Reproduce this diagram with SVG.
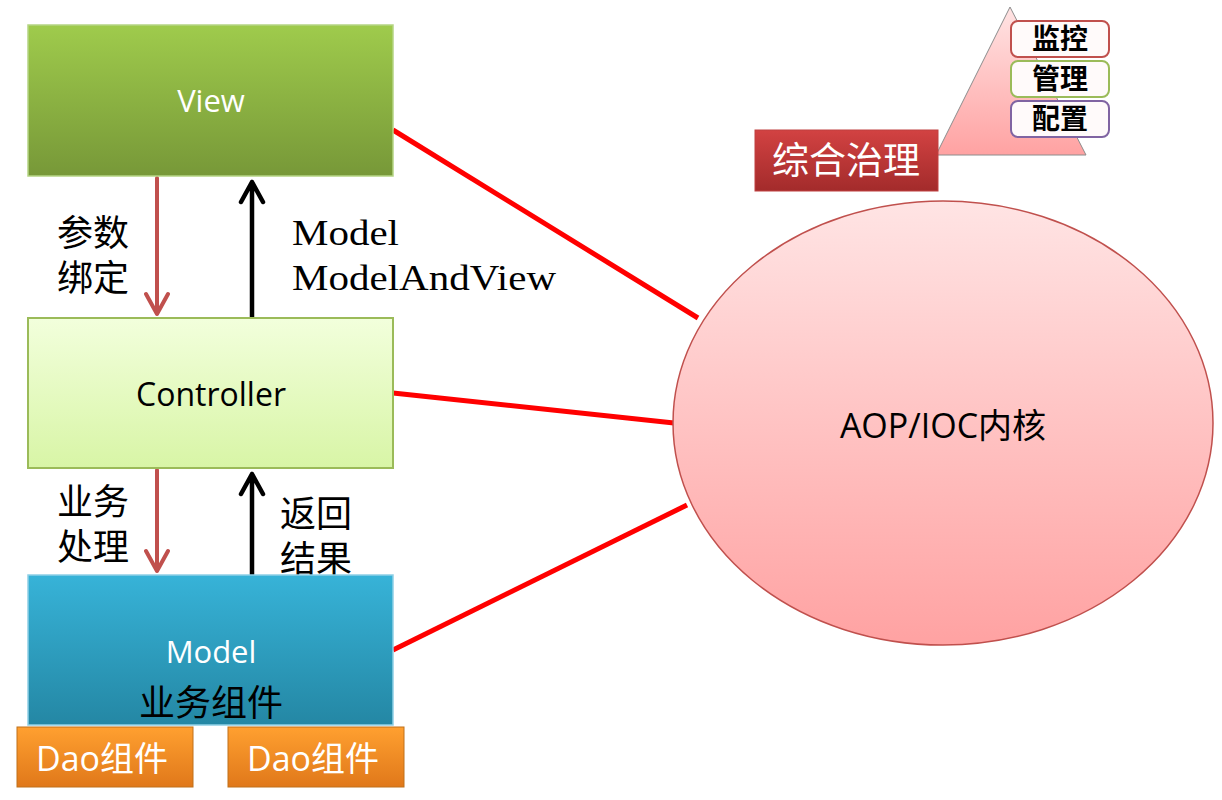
<svg xmlns="http://www.w3.org/2000/svg" width="1222" height="800" viewBox="0 0 1222 800">
<defs>
<linearGradient id="gView" x1="0" y1="0" x2="0" y2="1"><stop offset="0" stop-color="#9fcb4c"/><stop offset="1" stop-color="#779838"/></linearGradient>
<linearGradient id="gCtrl" x1="0" y1="0" x2="0" y2="1"><stop offset="0" stop-color="#f2ffdc"/><stop offset="1" stop-color="#d8f5a6"/></linearGradient>
<linearGradient id="gModel" x1="0" y1="0" x2="0" y2="1"><stop offset="0" stop-color="#37b3d8"/><stop offset="1" stop-color="#2487a4"/></linearGradient>
<linearGradient id="gDao" x1="0" y1="0" x2="0" y2="1"><stop offset="0" stop-color="#ffa030"/><stop offset="1" stop-color="#e0781a"/></linearGradient>
<linearGradient id="gPink" x1="0" y1="0" x2="0" y2="1"><stop offset="0" stop-color="#ffe4e4"/><stop offset="1" stop-color="#ffa2a2"/></linearGradient>
<linearGradient id="gRed" x1="0" y1="0" x2="0" y2="1"><stop offset="0" stop-color="#d24242"/><stop offset="1" stop-color="#a32b2b"/></linearGradient>
</defs>
<style>
.cn{font-family:"Liberation Serif","Noto Sans CJK SC",serif;font-size:36px;fill:#000}
.tag{font-family:"Liberation Serif","Noto Sans CJK SC",serif;font-size:28px;font-weight:bold;fill:#000}
.en{font-family:"Liberation Serif",serif;font-size:35px;fill:#000}
.sans{font-family:"Open Sans","Noto Sans","Noto Sans CJK SC",sans-serif}
.redline{stroke:#ff0000;stroke-width:5;fill:none}
.arR{stroke:#c0504d;stroke-width:4;fill:none;stroke-linecap:round;stroke-linejoin:round}
.arK{stroke:#000;stroke-width:4.5;fill:none;stroke-linecap:round;stroke-linejoin:round}
</style>
<rect width="1222" height="800" fill="#fff"/>

<g id="connectors">
<line class="redline" x1="393" y1="130" x2="698" y2="318"/>
<line class="redline" x1="393" y1="393" x2="674" y2="423"/>
<line class="redline" x1="393" y1="650" x2="687" y2="505"/>
<path class="arR" d="M157,178 V314 M146,294 L157,314 L168,294"/>
<path class="arK" d="M252,318 V182 M241,202 L252,182 L263,202"/>
<path class="arR" d="M157,470 V571 M146,551 L157,571 L168,551"/>
<path class="arK" d="M252,575 V474 M241,494 L252,474 L263,494"/>
<text class="cn" x="57" y="246">参数</text>
<text class="cn" x="57" y="291">绑定</text>
<text class="en" x="292" y="245" textLength="107" lengthAdjust="spacingAndGlyphs">Model</text>
<text class="en" x="292" y="290" textLength="264" lengthAdjust="spacingAndGlyphs">ModelAndView</text>
<text class="cn" x="57" y="515">业务</text>
<text class="cn" x="57" y="560">处理</text>
<text class="cn" x="280" y="527">返回</text>
<text class="cn" x="280" y="572">结果</text>
</g>

<g id="view">
<rect x="28" y="25" width="365" height="151" fill="url(#gView)" stroke="#b5d584" stroke-width="1.5"/>
<text class="sans" x="211" y="112" text-anchor="middle" font-size="31" fill="#fff">View</text>
</g>

<g id="controller">
<rect x="28" y="318" width="365" height="150" fill="url(#gCtrl)" stroke="#9bbb59" stroke-width="2"/>
<text class="sans" x="211" y="406" text-anchor="middle" font-size="32" fill="#000">Controller</text>
</g>

<g id="model">
<rect x="28" y="575" width="365" height="150" fill="url(#gModel)" stroke="#8fd0e6" stroke-width="1.5"/>
<text class="sans" x="211" y="663" text-anchor="middle" font-size="31" fill="#fff">Model</text>
<text class="cn" x="211" y="716" text-anchor="middle">业务组件</text>
</g>

<g id="dao1">
<rect x="17" y="727" width="176" height="60" fill="url(#gDao)" stroke="#c0701a" stroke-width="1"/>
<text class="sans" x="102" y="771" text-anchor="middle" font-size="34" fill="#fff">Dao组件</text>
</g>

<g id="dao2">
<rect x="228" y="727" width="176" height="60" fill="url(#gDao)" stroke="#c0701a" stroke-width="1"/>
<text class="sans" x="313" y="771" text-anchor="middle" font-size="34" fill="#fff">Dao组件</text>
</g>

<g id="core">
<ellipse cx="943" cy="423" rx="270" ry="222" fill="url(#gPink)" stroke="#c0504d" stroke-width="1.5"/>
<text class="sans" x="943" y="438" text-anchor="middle" font-size="34" fill="#000">AOP/IOC内核</text>
</g>

<g id="governance">
<polygon points="1010,7 936,155 1086,155" fill="url(#gPink)" stroke="#8c8c8c" stroke-width="1"/>
<rect x="755" y="130" width="183" height="61" fill="url(#gRed)" stroke="#c04040" stroke-width="1"/>
<text x="846" y="174" text-anchor="middle" font-family="Liberation Serif,'Noto Sans CJK SC',serif" font-size="37" fill="#fff">综合治理</text>
</g>

<g id="monitor">
<rect x="1011" y="21" width="98" height="36" rx="7" fill="#fffafa" stroke="#c0504d" stroke-width="2"/>
<text class="tag" x="1060" y="49" text-anchor="middle">监控</text>
</g>
<g id="manage">
<rect x="1011" y="61" width="98" height="36" rx="7" fill="#fffafa" stroke="#9bbb59" stroke-width="2"/>
<text class="tag" x="1060" y="89" text-anchor="middle">管理</text>
</g>
<g id="config">
<rect x="1011" y="101" width="98" height="36" rx="7" fill="#fffafa" stroke="#8064a2" stroke-width="2"/>
<text class="tag" x="1060" y="129" text-anchor="middle">配置</text>
</g>
</svg>
